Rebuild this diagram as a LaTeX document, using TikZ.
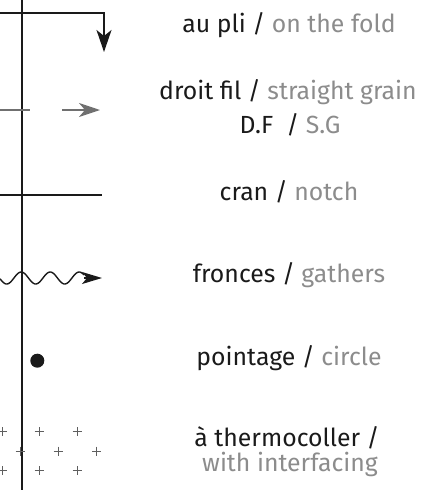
\documentclass[tikz,border=0pt]{standalone}
\usepackage{fontspec}
\setmainfont{Fira Sans}
\usetikzlibrary{arrows.meta}
\definecolor{ink}{HTML}{1A1A1A}
\definecolor{soft}{HTML}{8C8C8C}
\definecolor{mark}{HTML}{707070}
\begin{document}
\begin{tikzpicture}[x=1pt,y=-1pt,
  blk/.style={draw=ink,line width=1.8pt},
  gry/.style={draw=mark,line width=1.5pt},
  lbl/.style={anchor=base,inner sep=0pt,font=\fontsize{24.8}{30}\selectfont,text=ink},
  crossmark/.style={draw=mark!85!black,line width=1pt}]
\useasboundingbox (0,0) rectangle (424,490);
% main vertical line
\coordinate (vtop) at (22,0);
\coordinate (vbot) at (22,490);
\draw[draw=ink,line width=2.4pt] (vtop) -- (vbot);
% on the fold
\coordinate (f0) at (0,13);
\coordinate (f1) at (104,13);
\coordinate (f2) at (104,52);
\draw[blk,-{Stealth[length=22pt,width=15pt,inset=6pt]}] (f0) -- (f1) -- (f2);
% straight grain
\coordinate (g0) at (0,110);
\coordinate (g1) at (30,110);
\coordinate (g2) at (62,110);
\coordinate (g3) at (100,110);
\draw[gry] (g0) -- (g1);
\draw[gry,-{Stealth[length=21pt,width=14pt,inset=6pt]}] (g2) -- (g3);
% notch
\coordinate (n0) at (0,195);
\coordinate (n1) at (102,195);
\draw[blk] (n0) -- (n1);
% gathers
\coordinate (w1) at (84,278);
\coordinate (w2) at (102,278);
\draw[draw=ink,line width=1.4pt] plot[domain=0:84,samples=120,smooth] (\x,{278+6*cos(12.4138*(\x-6.7))});
\draw[draw=ink,line width=1.4pt,-{Stealth[length=20pt,width=12pt,inset=5pt]}] (w1) -- (w2);
% circle
\fill[ink] (37.3,360.7) circle (7);
% interfacing crosses
\foreach \px/\py in {2/431.7,39/431.7,77/431.7,20/451,58/451,96.7/451,2/470.7,39/470.7,77/470.7}{
  \draw[crossmark] (\px-4.5,\py) -- (\px+4.5,\py);
  \draw[crossmark] (\px,\py-4.5) -- (\px,\py+4.5);
}
% labels
\node[lbl] (t1) at (289,32) {au pli / \textcolor{soft}{on the fold}};
\node[lbl] (t2) at (288,99) {droit fil / \textcolor{soft}{straight grain}};
\node[lbl] (t3) at (290,133) {D.F\ \ / \textcolor{soft}{S.G}};
\node[lbl] (t4) at (289,200) {cran / \textcolor{soft}{notch}};
\node[lbl] (t5) at (289,282) {fronces / \textcolor{soft}{gathers}};
\node[lbl] (t6) at (289,365) {pointage / \textcolor{soft}{circle}};
\node[lbl] (t7) at (287,446) {à thermocoller /};
\node[lbl] (t8) at (290,471) {\textcolor{soft}{with interfacing}};
\end{tikzpicture}
\end{document}
